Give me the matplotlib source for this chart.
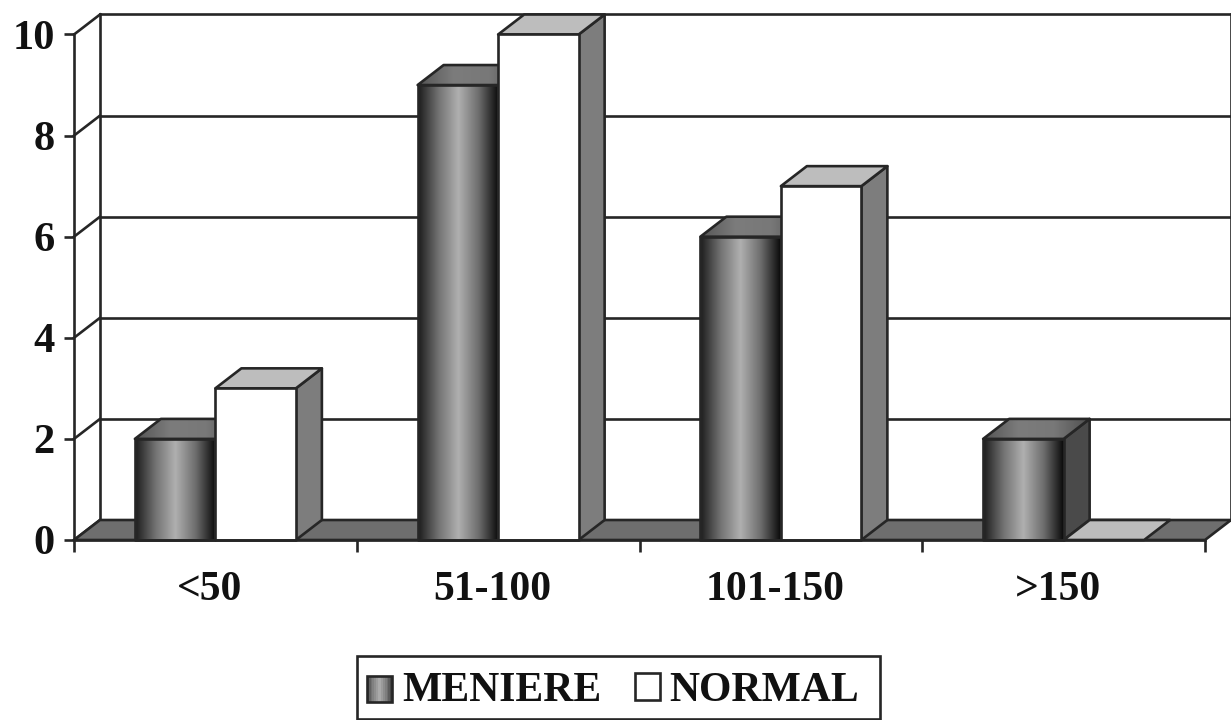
import matplotlib
matplotlib.use("Agg")
import numpy as np
import matplotlib.pyplot as plt
from matplotlib.colors import LinearSegmentedColormap
from matplotlib.legend_handler import HandlerBase
from matplotlib.patches import Patch, Polygon, Rectangle
from matplotlib.transforms import ScaledTranslation

categories = ["<50", "51-100", "101-150", ">150"]
meniere = [2, 9, 6, 2]
normal = [3, 10, 7, 0]
yticks = [0, 2, 4, 6, 8, 10]

plt.rcParams["font.family"] = ["Liberation Serif", "DejaVu Serif"]
plt.rcParams["font.weight"] = "bold"

W, H = 1231, 720
LINE = "#262626"
LW = 1.9

# depth of the fake 3d box, in data units
DX = 26 / 282.75
DY = 20 / 50.55
BAR_W = 80.5 / 282.75

front_cmap = LinearSegmentedColormap.from_list(
    "front", ["#1c1c1c", "#727272", "#b0b0b0", "#6e6e6e", "#0a0a0a"])
top_cmap = LinearSegmentedColormap.from_list(
    "top", ["#555555", "#7c7c7c", "#787878", "#505050"])
grad = np.linspace(0, 1, 128).reshape(1, -1)

fig = plt.figure(figsize=(W / 100, H / 100), dpi=100, facecolor="white")
ax = fig.add_axes([74 / W, (H - 540) / H, 1131 / W, 505.5 / H])


def face(pts, color, z, cmap=None):
    """One polygon of the box, optionally filled with the horizontal gradient"""
    poly = Polygon(pts, closed=True, facecolor=color if cmap is None else "none",
                   edgecolor=LINE, linewidth=LW, joinstyle="round",
                   clip_on=False, zorder=z + 0.1)
    ax.add_patch(poly)
    if cmap is not None:
        xs = [p[0] for p in pts]
        ys = [p[1] for p in pts]
        im = ax.imshow(grad, cmap=cmap, aspect="auto", vmin=0, vmax=1, zorder=z,
                       extent=[min(xs), max(xs), min(ys), max(ys)])
        clip = Polygon(pts, closed=True, transform=ax.transData)
        im.set_clip_path(clip)


def bar3d(x0, x1, h, z, front, top, side, cmap=None, top_map=None):
    if h > 0:
        face([(x1, 0), (x1 + DX, DY), (x1 + DX, h + DY), (x1, h)], side, z)
        face([(x0, h), (x0 + DX, h + DY), (x1 + DX, h + DY), (x1, h)], top, z + 1, top_map)
        face([(x0, 0), (x1, 0), (x1, h), (x0, h)], front, z + 2, cmap)
    else:
        face([(x0, 0), (x0 + DX, DY), (x1 + DX, DY), (x1, 0)], top, z + 1)


# back wall and left wall
n = len(categories)
for t in yticks:
    ax.plot([DX, n + DX], [t + DY, t + DY], color=LINE, lw=LW, clip_on=False, zorder=1)
    ax.plot([0, DX], [t, t + DY], color=LINE, lw=LW, clip_on=False, zorder=1)
ax.plot([DX, DX], [DY, 10 + DY], color=LINE, lw=LW, clip_on=False, zorder=1)
ax.plot([n + DX, n + DX], [DY, 10 + DY], color=LINE, lw=LW, clip_on=False, zorder=1)

# floor
face([(0, 0), (DX, DY), (n + DX, DY), (n, 0)], "#6e6e6e", 2)

for i in range(n):
    c = i + 0.5
    bar3d(c - BAR_W, c, meniere[i], 10 + i * 10, "none", "#6e6e6e", "#4a4a4a",
          front_cmap, top_cmap)
    bar3d(c, c + BAR_W, normal[i], 15 + i * 10, "white", "#bdbdbd", "#7d7d7d")

ax.set_xlim(0, n)
ax.set_ylim(0, 10)
ax.set_facecolor("none")
for s in ["top", "right"]:
    ax.spines[s].set_visible(False)
for s in ["left", "bottom"]:
    ax.spines[s].set_linewidth(LW)
    ax.spines[s].set_color(LINE)
    ax.spines[s].set_zorder(80)

ax.set_yticks(yticks)
ax.set_yticklabels([str(t) for t in yticks], fontsize=30.5, fontweight="bold")
ax.set_xticks(range(n + 1))
ax.set_xticklabels([])
ax.set_xticks(np.arange(n) + 0.5, minor=True)
ax.set_xticklabels(categories, minor=True, fontsize=30, fontweight="bold")
ax.tick_params(axis="y", length=7.5, width=LW, color=LINE, pad=6.5, labelcolor="#111111")
ax.tick_params(axis="x", which="major", length=8.5, width=LW, color=LINE)
ax.tick_params(axis="x", which="minor", length=0, pad=22, labelcolor="#111111")

# the category labels sit a little left of the group centres
nudge = ScaledTranslation(-6 / 100, 0, fig.dpi_scale_trans)
for lab in ax.get_xticklabels(minor=True):
    lab.set_transform(lab.get_transform() + nudge)


class StripHandler(HandlerBase):
    """Legend swatch with the same gradient as the bars"""

    def create_artists(self, legend, orig, xd, yd, width, height, fontsize, trans):
        out = []
        steps = 14
        for k in range(steps):
            out.append(Rectangle((xd + width * k / steps, yd), width / steps + 0.3, height,
                                 facecolor=front_cmap(0.15 + 0.7 * k / (steps - 1)),
                                 edgecolor="none", transform=trans))
        out.append(Rectangle((xd, yd), width, height, facecolor="none",
                             edgecolor=LINE, linewidth=LW, transform=trans))
        return out


# frame is wider on the right than the legend contents, so it is drawn separately
fig.add_artist(Rectangle((357 / W, 1 / H), 523 / W, 63 / H, transform=fig.transFigure,
                         facecolor="white", edgecolor=LINE, linewidth=LW))

h1 = Patch(label="MENIERE")
h2 = Patch(facecolor="white", edgecolor=LINE, linewidth=LW, label="NORMAL")
leg = fig.legend(handles=[h1, h2], handler_map={h1: StripHandler()}, ncol=2,
                 loc="center left", bbox_to_anchor=(367 / W, 1 - 691 / H),
                 prop={"size": 30, "weight": "bold"}, frameon=False,
                 handlelength=0.6, handleheight=0.6,
                 handletextpad=0.24, columnspacing=0.8, borderpad=0, borderaxespad=0)
for t in leg.get_texts():
    t.set_color("#111111")

fig.savefig("out.png", dpi=100)
